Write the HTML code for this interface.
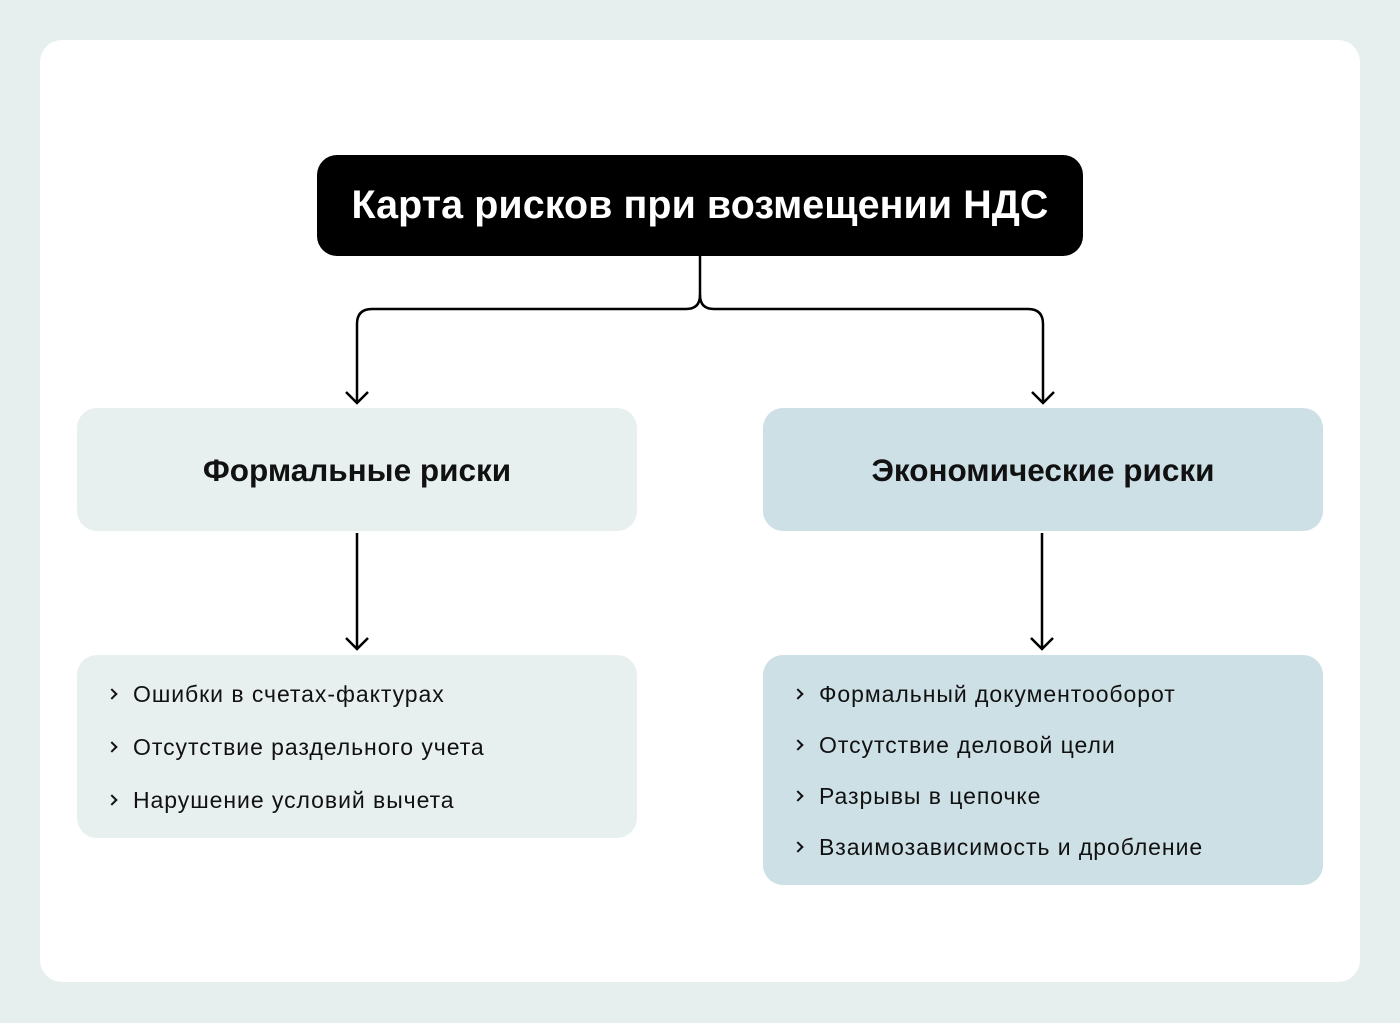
<!DOCTYPE html>
<html><head><meta charset="utf-8"><style>
body{margin:0;width:1400px;height:1023px;background:#e7efee;font-family:"Liberation Sans","DejaVu Sans",sans-serif;position:relative;overflow:hidden}
.card{position:absolute;left:40px;top:40px;width:1320px;height:942px;background:#fff;border-radius:22px}
.box{position:absolute;border-radius:20px;display:flex;align-items:center;justify-content:center}
.title{left:317px;top:155px;width:766px;height:101px;background:#000;color:#fff;font-size:39.4px;font-weight:bold;border-radius:20px;letter-spacing:0.1px}
.h{font-size:31.5px;font-weight:bold;color:#111;padding-top:2px}
.l{background:#e8efef}.r{background:#cde0e6}
.list{position:absolute;font-size:23px;color:#111;letter-spacing:0.95px}
.list div{position:absolute;white-space:nowrap}
.list span{position:absolute;left:-25px;top:9px;width:6px;height:6px;border-right:2.2px solid #111;border-top:2.2px solid #111;transform:rotate(45deg)}
</style></head><body>
<div class="card"></div>
<div class="box title">Карта рисков при возмещении НДС</div>
<div class="box l h" style="left:77px;top:408px;width:560px;height:121px">Формальные риски</div>
<div class="box r h" style="left:763px;top:408px;width:560px;height:121px">Экономические риски</div>
<div class="box l" style="left:77px;top:655px;width:560px;height:183px"></div>
<div class="box r" style="left:763px;top:655px;width:560px;height:230px"></div>
<svg width="1400" height="1023" style="position:absolute;left:0;top:0" fill="none" stroke="#000" stroke-width="2.5">
<path d="M700 256 V295 Q700 309 686 309 H372 Q357 309 357 324 V403"/>
<path d="M700 295 Q700 309 714 309 H1028 Q1043 309 1043 324 V403"/>
<path d="M346 392 L357 403 L368 392"/>
<path d="M1032 392 L1043 403 L1054 392"/>
<path d="M357 533 V649 M346 638 L357 649 L368 638"/>
<path d="M1042 533 V649 M1031 638 L1042 649 L1053 638"/>
</svg>
<div class="list" style="left:133px;top:0">
<div style="top:681px"><span></span>Ошибки в счетах-фактурах</div>
<div style="top:734px"><span></span>Отсутствие раздельного учета</div>
<div style="top:787px"><span></span>Нарушение условий вычета</div>
</div>
<div class="list" style="left:819px;top:0">
<div style="top:681px"><span></span>Формальный документооборот</div>
<div style="top:732px"><span></span>Отсутствие деловой цели</div>
<div style="top:783px"><span></span>Разрывы в цепочке</div>
<div style="top:834px"><span></span>Взаимозависимость и дробление</div>
</div>
</body></html>
